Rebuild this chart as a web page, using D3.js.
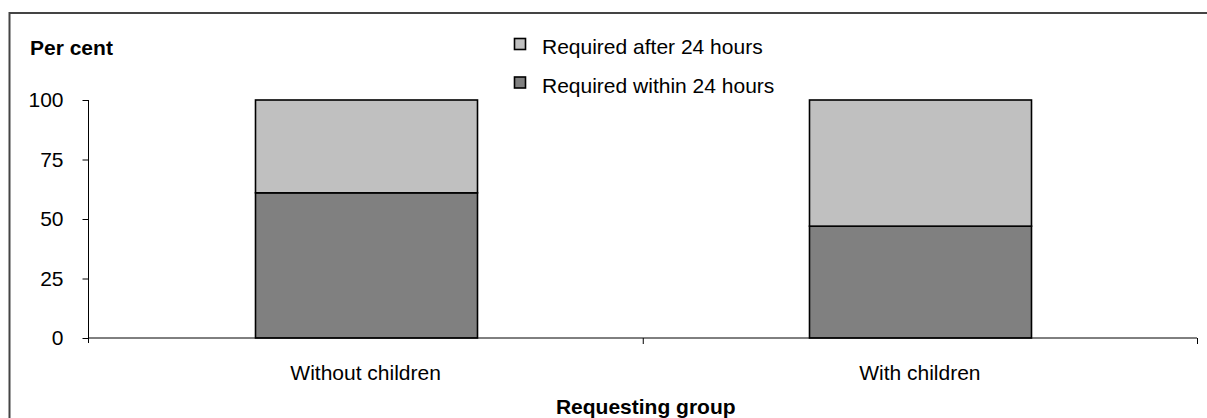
<!DOCTYPE html>
<html><head><meta charset="utf-8">
<script src="https://cdn.jsdelivr.net/npm/d3@7"></script>
<style>body{margin:0;background:#fff}svg{display:block;font-family:"Liberation Sans",Arial,sans-serif}</style>
</head><body>
<svg id="c" width="1207" height="418"></svg>
<script>
const categories = ["Without children", "With children"];
const seriesNames = ["Required within 24 hours", "Required after 24 hours"];
const within24 = [61, 47];
const after24 = [39, 53];
const yTicks = [0, 25, 50, 75, 100];
const colors = ["#808080", "#c0c0c0"];

const FS = 21;
const svg = d3.select("#c");
const W = 1207, H = 418;
// frame
svg.append("rect").attr("x", 9.5).attr("y", 13).attr("width", W + 10).attr("height", H + 10)
  .attr("fill", "#fff").attr("stroke", "#444").attr("stroke-width", 2);

const m = {left: 88.5, right: 1197, top: 100, bottom: 338};
const x = d3.scaleBand().domain(categories).range([m.left, m.right]).paddingInner(0.6).paddingOuter(0.3);
const y = d3.scaleLinear().domain([0, 100]).range([m.bottom, m.top]);

const data = categories.map((c, i) => ({cat: c, within: within24[i], after: after24[i]}));
const stack = d3.stack().keys(["within", "after"])(data);

const g = svg.append("g");
stack.forEach((s, si) => {
  g.selectAll(null).data(s).enter().append("rect")
    .attr("x", d => Math.round(x(d.data.cat)) + 0.5)
    .attr("width", Math.round(x.bandwidth()))
    .attr("y", d => y(d[1]))
    .attr("height", d => y(d[0]) - y(d[1]))
    .attr("fill", colors[si]).attr("stroke", "#000").attr("stroke-width", 1.6);
});

// y axis
const ya = d3.axisLeft(y).tickValues(yTicks).tickSize(6).tickPadding(19);
const yg = svg.append("g").attr("transform", `translate(${m.left},0)`).call(ya);
yg.attr("font-size", null).attr("font-family", null);
yg.select(".domain").attr("d", `M0,${m.top}V${m.bottom + 5}`);
yg.selectAll("text").attr("font-size", FS).attr("fill", "#000");
yg.selectAll("line,path").attr("stroke", "#000");

// x axis
const xa = d3.axisBottom(d3.scaleLinear().domain([0, categories.length]).range([m.left, m.right]))
  .tickValues(d3.range(1, categories.length + 1)).tickSize(6).tickFormat("");
const xg = svg.append("g").attr("transform", `translate(0,${m.bottom})`).call(xa);
xg.select(".domain").attr("d", `M${m.left},0H${m.right}`);
xg.selectAll("line,path").attr("stroke", "#000");
categories.forEach(c => {
  svg.append("text").attr("x", x(c) + x.bandwidth() / 2).attr("y", 380)
    .attr("text-anchor", "middle").attr("font-size", FS).text(c);
});

svg.append("text").attr("x", 30).attr("y", 55).attr("font-size", FS).attr("font-weight", "bold").text("Per cent");
svg.append("text").attr("x", (m.left + m.right) / 2 + 3).attr("y", 414).attr("text-anchor", "middle")
  .attr("font-size", FS).attr("font-weight", "bold").text("Requesting group");

// legend (after first, then within)
const legendOrder = [1, 0];
legendOrder.forEach((si, k) => {
  const ly = 38.5 + k * 38.5;
  svg.append("rect").attr("x", 514.5).attr("y", ly).attr("width", 11).attr("height", 11)
    .attr("fill", colors[si]).attr("stroke", "#000").attr("stroke-width", 1.6);
  svg.append("text").attr("x", 542).attr("y", ly + 15.5).attr("font-size", FS).text(seriesNames[si]);
});
</script>
</body></html>
